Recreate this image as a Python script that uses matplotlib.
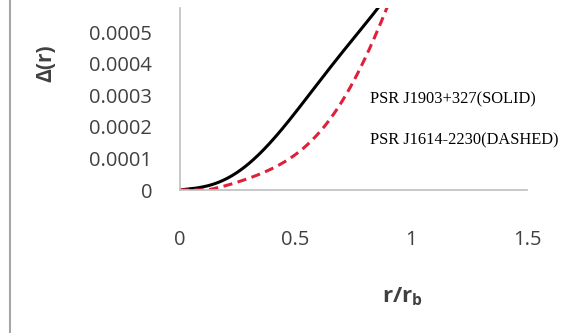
import numpy as np
import matplotlib.pyplot as plt

# r / r_b and Delta(r)
r_solid = [0.0, 0.06, 0.12, 0.19, 0.27, 0.34, 0.41, 0.53, 0.68, 0.85, 0.90]
d_solid = [0.0, 0.000004, 0.000016, 0.000032, 0.000063, 0.000111, 0.000174,
           0.000269, 0.000418, 0.00057, 0.00062]

r_dash = [0.0, 0.06, 0.12, 0.19, 0.27, 0.34, 0.41, 0.53, 0.68, 0.745, 0.82, 0.885, 0.92]
d_dash = [0.0, 0.0000005, 0.000003, 0.00001, 0.000025, 0.000047, 0.000079,
          0.000133, 0.000247, 0.000342, 0.000449, 0.000563, 0.00062]

yticks = [0, 0.0001, 0.0002, 0.0003, 0.0004, 0.0005]
ytick_labels = ['0', '0.0001', '0.0002', '0.0003', '0.0004', '0.0005']
xticks = [0, 0.5, 1, 1.5]
xtick_labels = ['0', '0.5', '1', '1.5']

fig = plt.figure(figsize=(5.68, 3.33), dpi=100)
ax = fig.add_axes([180 / 568, 1 - 190 / 333, 347 / 568, 182 / 333])

# smooth the read points with a low order fit
def smooth(x, y):
    xs = np.linspace(x[0], x[-1], 200)
    c = np.polyfit(x, y, 5)
    ys = np.clip(np.polyval(c, xs), 0, None)
    return xs, ys

xs, ys = smooth(r_solid, d_solid)
ax.plot(xs, ys, color='black', lw=2.2, solid_capstyle='butt')
xs, ys = smooth(r_dash, d_dash)
ax.plot(xs, ys, color='#e0203a', lw=2.2, ls=(0, (3, 1.8)))

ax.set_xlim(0, 1.5)
ax.set_ylim(0, 0.000576)
ax.set_xticks(xticks)
ax.set_xticklabels(xtick_labels)
ax.set_yticks(yticks)
ax.set_yticklabels(ytick_labels)
ax.tick_params(length=0, labelsize=14.5, labelcolor='#404040')
ax.tick_params(axis='x', pad=29)
ax.tick_params(axis='y', pad=20)
for lab in ax.get_xticklabels() + ax.get_yticklabels():
    lab.set_fontfamily('Open Sans')

for side in ['top', 'right']:
    ax.spines[side].set_visible(False)
for side in ['left', 'bottom']:
    ax.spines[side].set_color('#bfbfbf')
    ax.spines[side].set_linewidth(1.2)

fig.text(370 / 568, 1 - 99 / 333, 'PSR J1903+327(SOLID)', family='Liberation Serif',
         fontsize=11.8, va='center', ha='left')
fig.text(370 / 568, 1 - 140 / 333, 'PSR J1614-2230(DASHED)', family='Liberation Serif',
         fontsize=11.8, va='center', ha='left')

fig.text(402 / 568, 1 - 297 / 333, r'r/r$_\mathregular{b}$', family='Open Sans',
         fontweight='bold', fontsize=16, color='#404040', ha='center', va='center')
fig.text(46 / 568, 1 - 63 / 333, 'Δ(r)', family='Open Sans', fontweight='bold',
         fontsize=15, color='#404040', ha='center', va='center', rotation=90)

# grey frame line at the left edge of the picture
fig.add_artist(plt.Line2D([10 / 568, 10 / 568], [0, 1], transform=fig.transFigure,
                          color='#a6a6a6', lw=1.5))

fig.savefig('out.png', dpi=100)
